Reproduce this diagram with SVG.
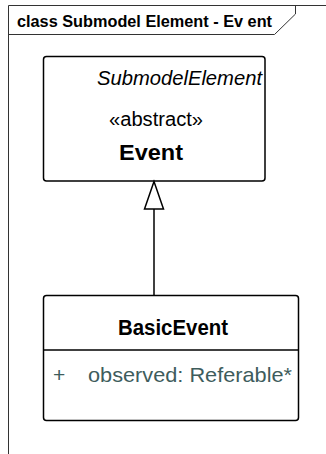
<svg xmlns="http://www.w3.org/2000/svg" width="326" height="454" viewBox="0 0 326 454">
<style>
.t{font-family:"Liberation Sans",Arial,sans-serif;fill:#000}
.b{font-weight:bold}
.box{fill:#fff;stroke:#000;stroke-width:1.5}
.frame{fill:none;stroke:#333;stroke-width:1}
.attr{fill:#3e5c5c}
.conn{fill:none;stroke:#000;stroke-width:1.5}
</style>
<rect width="326" height="454" fill="#fff"/>
<g id="frame">
<path class="frame" d="M8.5,454 V5.5 H326"/>
<path class="frame" d="M8.5,34.5 H274.5 L295.5,14 V5.5"/>
<text class="t b" x="17" y="27" font-size="17" textLength="255" lengthAdjust="spacingAndGlyphs">class Submodel Element - Ev ent</text>
</g>
<g id="Event">
<rect class="box" x="43.5" y="56.5" width="221.5" height="124.5" rx="3"/>
<text class="t" x="97" y="85" font-size="21" font-style="italic" textLength="165" lengthAdjust="spacingAndGlyphs">SubmodelElement</text>
<text class="t" x="109" y="126" font-size="20" textLength="94" lengthAdjust="spacingAndGlyphs">«abstract»</text>
<text class="t b" x="119" y="160" font-size="22" textLength="64" lengthAdjust="spacingAndGlyphs">Event</text>
</g>
<g id="BasicEvent">
<rect class="box" x="43.5" y="295.5" width="255" height="125" rx="3"/>
<line x1="43.5" y1="350" x2="298.5" y2="350" stroke="#000" stroke-width="1.5"/>
<text class="t b" x="118" y="335" font-size="22" textLength="110" lengthAdjust="spacingAndGlyphs">BasicEvent</text>
<text class="t attr" x="53" y="382" font-size="21">+</text>
<text class="t attr" x="88" y="382" font-size="21" textLength="204" lengthAdjust="spacingAndGlyphs">observed: Referable*</text>
</g>
<g id="connectors">
<line class="conn" x1="154" y1="209" x2="154" y2="295.5"/>
<path class="conn" d="M154,181.5 L144.5,209 H163.5 Z" fill="#fff"/>
</g>
</svg>
